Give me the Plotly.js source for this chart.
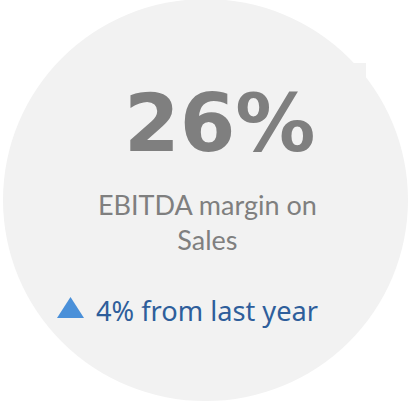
<!DOCTYPE html>
<html>
<head>
<meta charset="utf-8">
<script src="https://cdn.plot.ly/plotly-3.0.1.min.js"></script>
<style>html,body{margin:0;padding:0;background:#fff;}#chart{width:414px;height:405px;}</style>
</head>
<body>
<div id="chart"></div>
<script>
// KPI data
var kpiValue = [26];
var kpiUnit = ["%"];
var kpiLabel = ["EBITDA margin on", "Sales"];
var deltaValue = [4];
var deltaText = ["from last year"];

var W = 414, H = 405;
var bg = '#f2f2f2';

var layout = {
  width: W, height: H,
  margin: {l: 0, r: 0, t: 0, b: 0},
  paper_bgcolor: '#ffffff',
  plot_bgcolor: '#ffffff',
  showlegend: false,
  xaxis: {range: [0, W], visible: false, fixedrange: true},
  yaxis: {range: [H, 0], visible: false, fixedrange: true},
  shapes: [
    {type: 'circle', xref: 'x', yref: 'y', x0: 3, x1: 408, y0: -1, y1: 401,
     fillcolor: bg, line: {width: 0}, layer: 'below'},
    {type: 'rect', xref: 'x', yref: 'y', x0: 353, x1: 366, y0: 63, y1: 77,
     fillcolor: bg, line: {width: 0}, layer: 'below'},
    {type: 'path', xref: 'x', yref: 'y',
     path: deltaValue[0] >= 0 ? 'M57,318 L70.5,297 L84,318 Z' : 'M57,297 L70.5,318 L84,297 Z',
     fillcolor: '#4a90d9', line: {width: 0}}
  ],
  annotations: [
    {x: 219, y: 123, xref: 'x', yref: 'y', xanchor: 'center', yanchor: 'middle',
     text: kpiValue[0] + kpiUnit[0], showarrow: false,
     font: {family: 'DejaVu Sans', size: 80, color: '#7f7f7f', weight: 'bold'}},
    {x: 207, y: 222, xref: 'x', yref: 'y', xanchor: 'center', yanchor: 'middle',
     text: kpiLabel.join('<br>'), showarrow: false,
     font: {family: 'Lato', size: 27, color: '#7f7f7f'}},
    {x: 94, y: 310, xref: 'x', yref: 'y', xanchor: 'left', yanchor: 'middle',
     text: Math.abs(deltaValue[0]) + '% ' + deltaText[0], showarrow: false,
     font: {family: 'Noto Sans', size: 27.2, color: '#2e5e9b'}}
  ]
};

Plotly.newPlot('chart', [], layout, {staticPlot: true, displayModeBar: false});
</script>
</body>
</html>
